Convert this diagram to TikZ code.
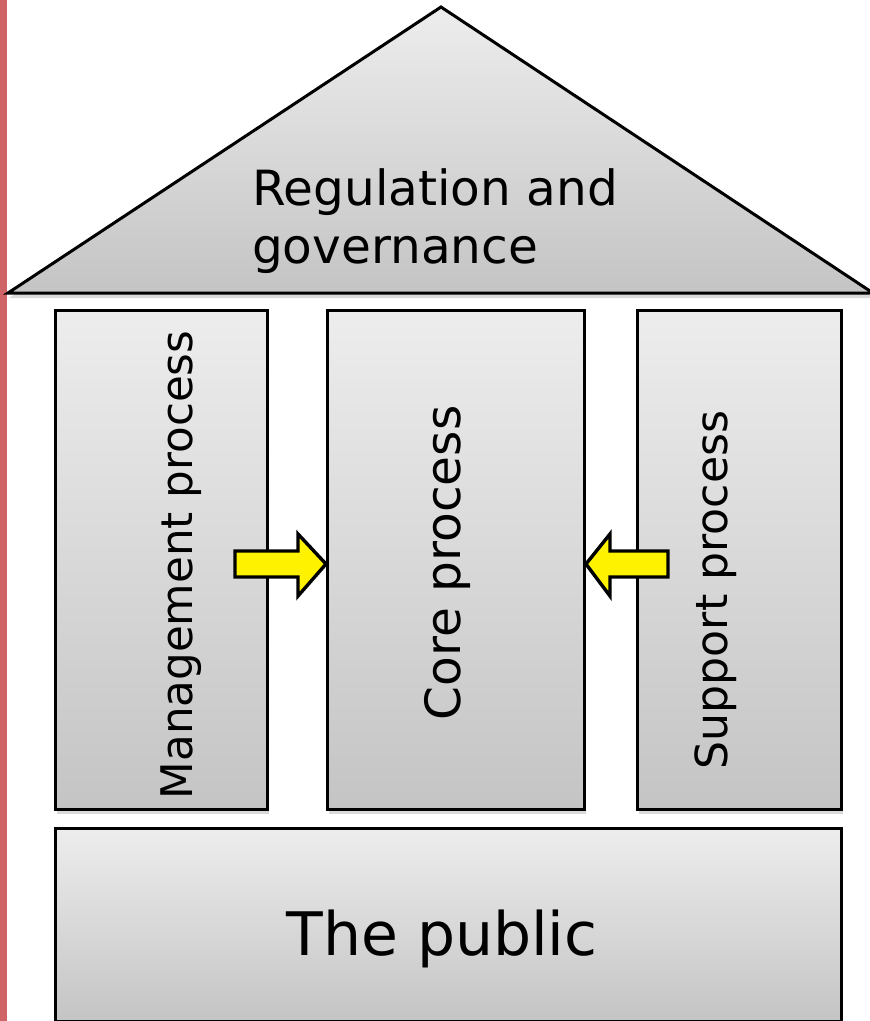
\documentclass[tikz,border=0pt]{standalone}
\usepackage{fontspec}
\setmainfont{DejaVu Sans}
\usetikzlibrary{shadows}
\definecolor{redbar}{RGB}{208,99,101}
\definecolor{gtop}{RGB}{237,237,237}
\definecolor{gbot}{RGB}{196,196,196}
\tikzset{
  box/.style={draw=black, line width=3pt, top color=gtop, bottom color=gbot,
    rectangle, anchor=north west, inner sep=0pt,
    drop shadow={shadow xshift=1pt, shadow yshift=-4pt, opacity=0.3}},
  lbl/.style={inner sep=0pt, text=black},
  blockarrow/.style={draw=black, line width=3.4pt, fill=yellow, line join=miter}
}
\begin{document}
\begin{tikzpicture}[x=1pt,y=-1pt]
\useasboundingbox (0,0) rectangle (870,1021);
\fill[redbar] (0,0) rectangle (7,1021);
% roof
\draw[draw=black, line width=3pt, top color=gtop, bottom color=gbot,
  drop shadow={shadow xshift=1pt, shadow yshift=-5pt, opacity=0.3}]
  (8,293) -- (441,7) -- (873,293) -- cycle;
\node[lbl, anchor=base west, align=left, font=\fontsize{48.5}{58}\selectfont] (roof) at (252,263)
  {Regulation and\\governance};
% pillars
\node[box, minimum width=212pt, minimum height=499pt] (mgmt) at (54,309) {};
\node[box, minimum width=257pt, minimum height=499pt] (core) at (326,309) {};
\node[box, minimum width=204pt, minimum height=499pt] (supp) at (636,309) {};
\node[box, minimum width=786pt, minimum height=193pt] (pub) at (54,827) {};
\node[lbl, rotate=90, anchor=base, font=\fontsize{43.6}{50}\selectfont] (mgmtt) at (192,565) {Management process};
\node[lbl, rotate=90, anchor=base, font=\fontsize{48.6}{55}\selectfont] (coret) at (460,563) {Core process};
\node[lbl, rotate=90, anchor=base, font=\fontsize{44.2}{50}\selectfont] (suppt) at (727,590) {Support process};
\node[lbl, anchor=base, font=\fontsize{60}{70}\selectfont] (pubt) at (442,955) {The public};
% arrows
\draw[blockarrow] (235,551) -- (298,551) -- (298,534) -- (core.west |- 0,564) -- (298,596) -- (298,577) -- (235,577) -- cycle;
\draw[blockarrow] (668,551) -- (610,551) -- (610,534) -- (core.east |- 0,564) -- (610,596) -- (610,577) -- (668,577) -- cycle;
\end{tikzpicture}
\end{document}
